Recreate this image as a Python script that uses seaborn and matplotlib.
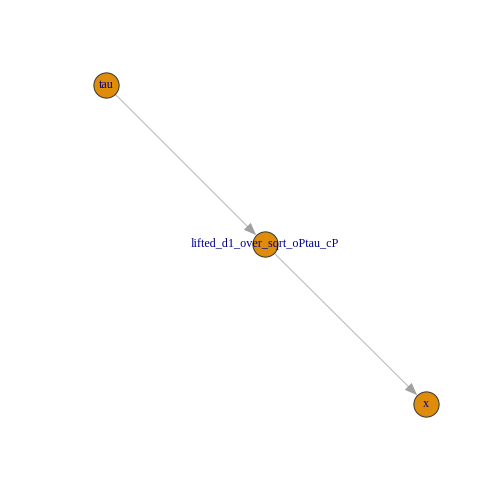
import matplotlib
matplotlib.use("Agg")
import matplotlib.pyplot as plt
import seaborn as sns
import pandas as pd

# node layout (pixel coords of the reference, y down)
node_names = ["tau", "lifted_d1_over_sqrt_oPtau_cP", "x"]
node_x = [106, 265, 426]
node_y = [85, 244, 404]
edge_from = ["tau", "lifted_d1_over_sqrt_oPtau_cP"]
edge_to = ["lifted_d1_over_sqrt_oPtau_cP", "x"]

nodes = pd.DataFrame({"name": node_names, "x": node_x, "y": node_y})
pos = {n: (a, b) for n, a, b in zip(node_names, node_x, node_y)}

sns.set_style("white")
plt.rcParams["font.family"] = ["Liberation Serif", "DejaVu Serif"]

fig = plt.figure(figsize=(5.04, 5.04), dpi=100)
ax = fig.add_axes([0, 0, 1, 1])
ax.set_xlim(0, 504)
ax.set_ylim(504, 0)
ax.axis("off")

for a, b in zip(edge_from, edge_to):
    # thin light line, then the filled head on top
    ax.annotate("", xy=pos[b], xytext=pos[a],
                arrowprops=dict(arrowstyle="-", color="#BDBDBD", lw=0.8,
                                shrinkA=9, shrinkB=12),
                zorder=1)
    ax.annotate("", xy=pos[b], xytext=pos[a],
                arrowprops=dict(arrowstyle="-|>,head_length=0.9,head_width=0.35",
                                color="#A0A0A0", lw=0, shrinkA=60, shrinkB=9,
                                mutation_scale=10),
                zorder=1)

sns.scatterplot(data=nodes, x="x", y="y", s=330, color="#DF8C0B",
                edgecolor="#333333", linewidth=0.7, ax=ax, zorder=2, legend=False)

for _, r in nodes.iterrows():
    ax.text(r["x"], r["y"], r["name"], ha="center", va="center",
            fontsize=8.7, color="#00008B", zorder=3)

ax.set_xlim(0, 504)
ax.set_ylim(504, 0)
fig.savefig("out.png", dpi=100)
